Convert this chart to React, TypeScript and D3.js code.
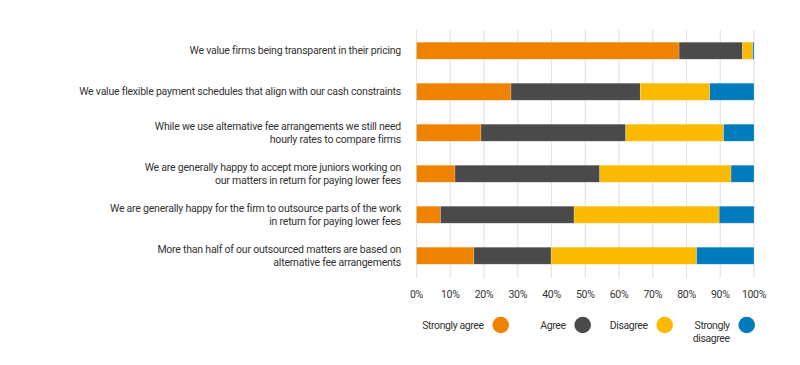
import React from "react";
import * as d3 from "d3";

const statements: string[][] = [
  ["We value firms being transparent in their pricing"],
  ["We value flexible payment schedules that align with our cash constraints"],
  ["While we use alternative fee arrangements we still need", "hourly rates to compare firms"],
  ["We are generally happy to accept more juniors working on", "our matters in return for paying lower fees"],
  ["We are generally happy for the firm to outsource parts of the work", "in return for paying lower fees"],
  ["More than half of our outsourced matters are based on", "alternative fee arrangements"],
];

const responseKeys = ["stronglyAgree", "agree", "disagree", "stronglyDisagree"];
const responseLabels: string[][] = [["Strongly agree"], ["Agree"], ["Disagree"], ["Strongly", "disagree"]];
const responseColors = ["#ef8200", "#4a4a4a", "#fbb900", "#007bbd"];

// percent of respondents, per statement
const stronglyAgree = [77.8, 28.0, 19.1, 11.4, 7.1, 17.0];
const agree = [18.8, 38.3, 42.9, 42.9, 39.6, 22.9];
const disagree = [3.0, 20.6, 29.0, 38.9, 43.0, 43.1];
const stronglyDisagree = [0.4, 13.1, 9.0, 6.8, 10.3, 17.0];

const ticks = [0, 10, 20, 30, 40, 50, 60, 70, 80, 90, 100];

const FONT = "Roboto, 'Noto Sans', sans-serif";

export default function App() {
  const width = 800;
  const height = 365;

  const rows = statements.map((s, i) => ({
    key: s.join(" "),
    lines: s,
    stronglyAgree: stronglyAgree[i],
    agree: agree[i],
    disagree: disagree[i],
    stronglyDisagree: stronglyDisagree[i],
  }));

  const x = d3.scaleLinear().domain([0, 100]).range([416.5, 754]);
  const y = d3
    .scaleBand()
    .domain(rows.map((r) => r.key))
    .range([30.3, 276.1])
    .paddingInner(0.585)
    .paddingOuter(0.29);

  const stack = d3.stack<any>().keys(responseKeys)(rows);

  const legendX = d3.scalePoint().domain(responseKeys).range([500.7, 746.7]);

  return (
    <svg
      width={width}
      height={height}
      style={{ position: "absolute", left: 0, top: 0, background: "#fff" }}
      fontFamily={FONT}
    >
      {/* grid */}
      {ticks.map((t) => (
        <line key={t} x1={x(t)} x2={x(t)} y1={30} y2={278} stroke="#e3e3e3" strokeWidth={1.2} />
      ))}

      {/* bars */}
      {stack.map((layer, li) => (
        <g key={layer.key} fill={responseColors[li]}>
          {layer.map((d, i) => (
            <rect
              key={i}
              x={x(d[0])}
              y={y(rows[i].key)}
              width={Math.max(0, x(d[1]) - x(d[0]))}
              height={y.bandwidth()}
              stroke="#ffffff"
              strokeOpacity={0.35}
              strokeWidth={0.6}
            />
          ))}
        </g>
      ))}

      {/* category labels */}
      {rows.map((r) => {
        const cy = (y(r.key) as number) + y.bandwidth() / 2;
        const n = r.lines.length;
        return (
          <text
            key={r.key}
            x={401}
            textAnchor="end"
            fontSize={10.5}
            letterSpacing={-0.22}
            fill="#333"
          >
            {r.lines.map((l, k) => (
              <tspan key={k} x={401} y={cy + (k - (n - 1) / 2) * 13.6} dy="0.35em">
                {l}
              </tspan>
            ))}
          </text>
        );
      })}

      {/* x tick labels */}
      {ticks.map((t) => (
        <text
          key={t}
          x={x(t)}
          y={294}
          dy="0.35em"
          textAnchor="middle"
          fontSize={10.5}
          letterSpacing={-0.3}
          fill="#333"
        >
          {t}%
        </text>
      ))}

      {/* legend */}
      {responseKeys.map((k, i) => {
        const cx = legendX(k) as number;
        return (
          <g key={k}>
            <circle cx={cx} cy={325} r={8.3} fill={responseColors[i]} />
            <text x={cx - 17} textAnchor="end" fontSize={10.5} letterSpacing={-0.4} fill="#333">
              {responseLabels[i].map((l, j) => (
                <tspan key={j} x={cx - 17} y={325.5 + j * 12.8} dy="0.35em">
                  {l}
                </tspan>
              ))}
            </text>
          </g>
        );
      })}
    </svg>
  );
}
